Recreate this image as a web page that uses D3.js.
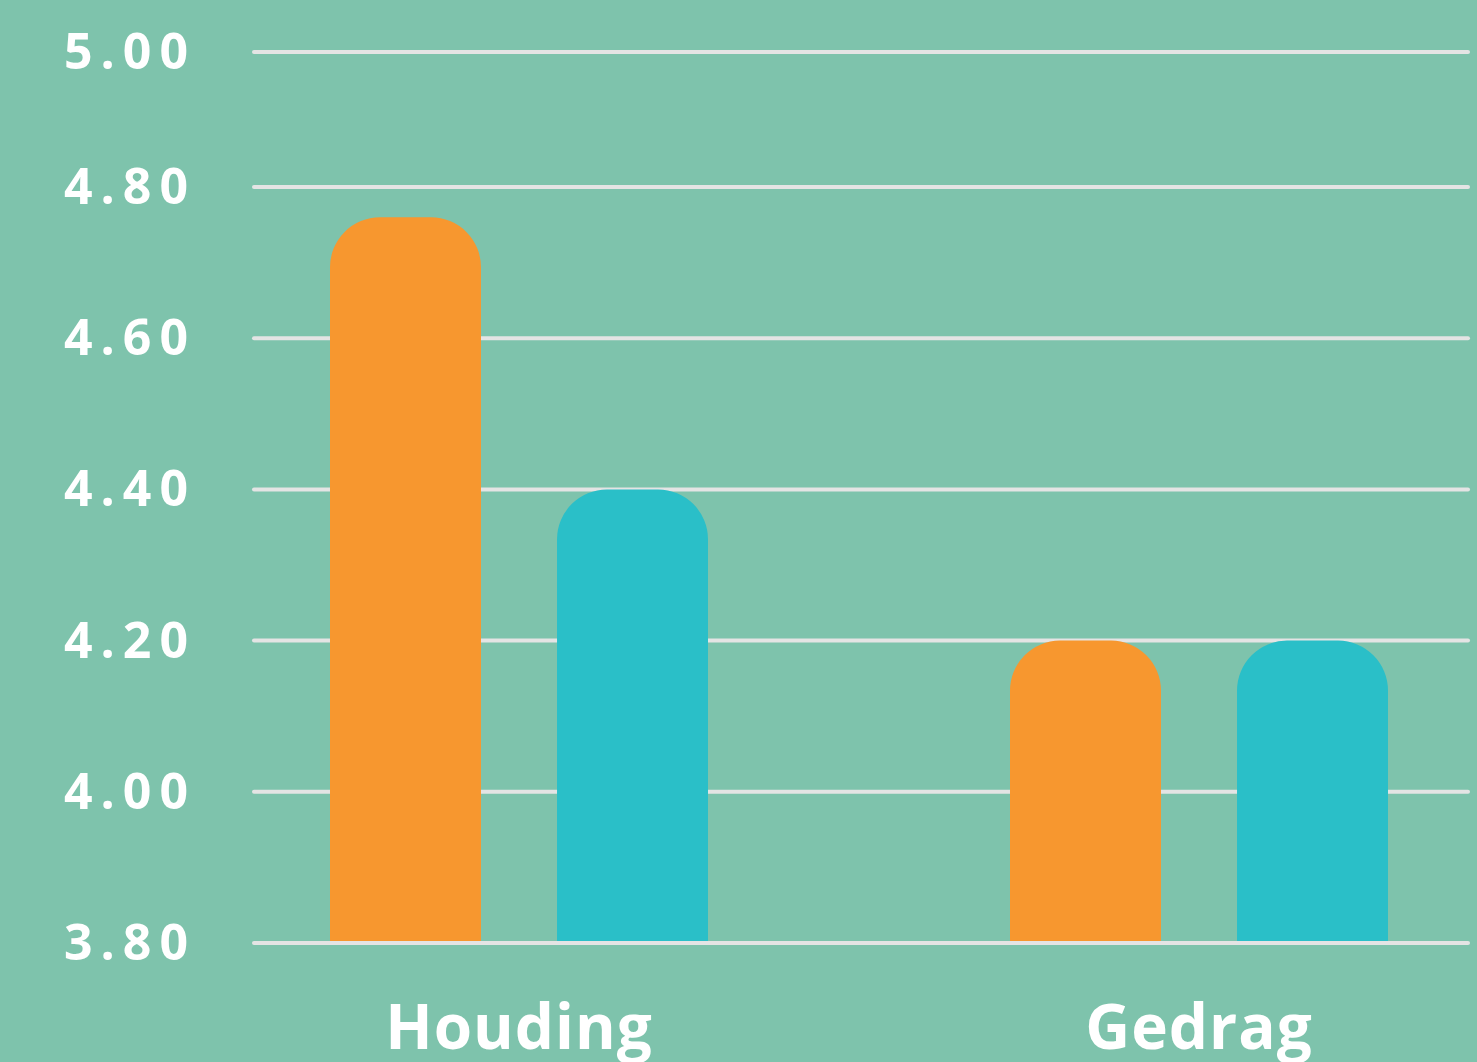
<!DOCTYPE html>
<html>
<head>
<meta charset="utf-8">
<script src="https://cdn.jsdelivr.net/npm/d3@7"></script>
<style>
  html, body { margin: 0; padding: 0; background: #7ec3ac; overflow: hidden; }
</style>
</head>
<body>
<div id="chart"></div>
<script>
// data
var categories = ['Houding', 'Gedrag'];
var series = ['a', 'b'];
var valuesA = [4.76, 4.20];
var valuesB = [4.40, 4.20];
var tickValues = [3.80, 4.00, 4.20, 4.40, 4.60, 4.80, 5.00];

var width = 1477, height = 1062;
var colors = ['#f7972f', '#2abfc8'];

var svg = d3.select('#chart').append('svg')
    .attr('width', width)
    .attr('height', height);

svg.append('rect')
    .attr('width', width)
    .attr('height', height)
    .attr('fill', '#7ec3ac');

// the top tick sits closer than the rest in the original
var y = d3.scaleLinear()
    .domain([3.8, 4.8, 5.0])
    .range([943, 187, 52]);

var x0 = d3.scaleBand()
    .domain(categories)
    .range([179, 1539]);

var x1 = d3.scaleBand()
    .domain(series)
    .range([-189, 189])
    .paddingInner(0.335);

// gridlines
svg.append('g').selectAll('line')
    .data(tickValues)
    .enter().append('line')
    .attr('x1', 254)
    .attr('x2', 1468)
    .attr('y1', function(d) { return y(d); })
    .attr('y2', function(d) { return y(d); })
    .attr('stroke', '#e4e4e4')
    .attr('stroke-width', 4)
    .attr('stroke-linecap', 'round');

// tick labels
svg.append('g').selectAll('text')
    .data(tickValues)
    .enter().append('text')
    .attr('x', 64)
    .attr('y', function(d) { return y(d) + 17; })
    .attr('fill', '#ffffff')
    .style('font-family', '"Open Sans", sans-serif')
    .style('font-weight', 700)
    .style('font-size', '50px')
    .style('letter-spacing', '8px')
    .text(function(d) { return d.toFixed(2); });

// rounded-top bar path
function barPath(x, top, w, bottom, r) {
    r = Math.min(r, w / 2, bottom - top);
    return 'M' + x + ',' + bottom +
        'V' + (top + r) +
        'A' + r + ',' + r + ' 0 0 1 ' + (x + r) + ',' + top +
        'H' + (x + w - r) +
        'A' + r + ',' + r + ' 0 0 1 ' + (x + w) + ',' + (top + r) +
        'V' + bottom + 'Z';
}

var rows = categories.map(function(c, i) {
    return { cat: c, vals: [valuesA[i], valuesB[i]] };
});

var groups = svg.append('g').selectAll('g')
    .data(rows)
    .enter().append('g')
    .attr('transform', function(d) {
        return 'translate(' + (x0(d.cat) + x0.bandwidth() / 2) + ',0)';
    });

groups.selectAll('path')
    .data(function(d) {
        return d.vals.map(function(v, i) { return { key: series[i], value: v, i: i }; });
    })
    .enter().append('path')
    .attr('fill', function(d) { return colors[d.i]; })
    .attr('d', function(d) {
        return barPath(x1(d.key), y(d.value), x1.bandwidth(), y(3.8) - 2, 50);
    });

// category labels
svg.append('g').selectAll('text')
    .data(categories)
    .enter().append('text')
    .attr('x', function(d) { return x0(d) + x0.bandwidth() / 2; })
    .attr('y', 1049)
    .attr('text-anchor', 'middle')
    .attr('fill', '#ffffff')
    .style('font-family', '"Open Sans", sans-serif')
    .style('font-weight', 700)
    .style('font-size', '62px')
    .style('letter-spacing', '1px')
    .text(function(d) { return d; });
</script>
</body>
</html>
